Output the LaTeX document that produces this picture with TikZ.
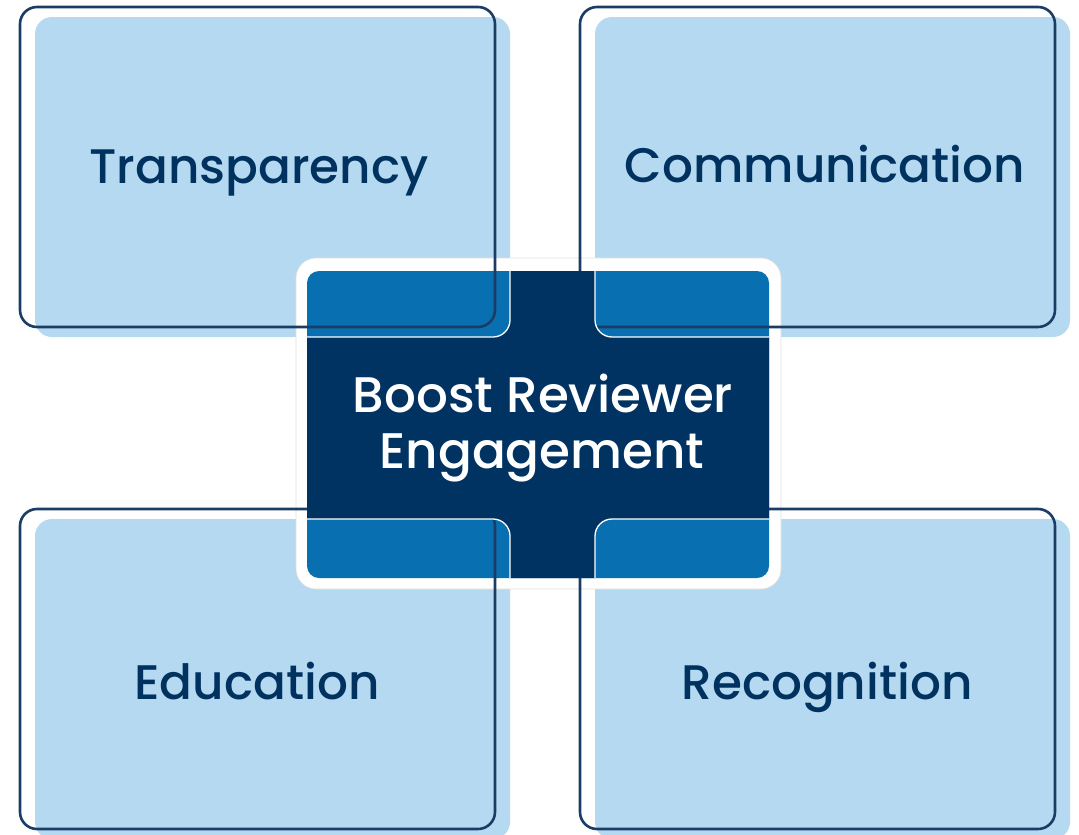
\documentclass[tikz,border=0pt]{standalone}
\usepackage{fontspec}
\newfontfamily\labelfont{Poppins Medium}
\definecolor{lightfill}{RGB}{180,217,241}
\definecolor{edge}{RGB}{27,61,101}
\definecolor{navy}{RGB}{0,51,98}
\definecolor{midblue}{RGB}{8,112,176}
\definecolor{labeltext}{RGB}{0,50,95}
\begin{document}
\begin{tikzpicture}[x=1pt,y=-1pt,
  cardfill/.style={fill=lightfill, rounded corners=17pt},
  cardedge/.style={draw=edge, line width=2.6pt, rounded corners=17pt},
  cardlabel/.style={font=\labelfont\fontsize{48.5}{52}\selectfont, text=labeltext, anchor=base, inner sep=0pt},
  hublabel/.style={font=\labelfont\fontsize{50}{56}\selectfont, text=white, anchor=base, inner sep=0pt}]
\useasboundingbox (0,0) rectangle (1079,835);

% light card bodies
\fill[cardfill] (35,17) rectangle (510,337);
\fill[cardfill] (595,17) rectangle (1070,337);
\fill[cardfill] (35,519) rectangle (510,839);
\fill[cardfill] (595,519) rectangle (1070,839);

% white frame and blue panel of the hub
\fill[white, draw=gray!25, line width=0.6pt, rounded corners=20pt] (296,258) rectangle (781,589);
\fill[midblue, rounded corners=12pt] (307,271) rectangle (769,578);

% card outlines
\draw[cardedge] (20,7) rectangle (495,327);
\draw[cardedge] (580,7) rectangle (1055,327);
\draw[cardedge] (20,509) rectangle (495,829);
\draw[cardedge] (580,509) rectangle (1055,829);

% navy cross: the panel minus the four card bodies
\begin{scope}
  \clip[rounded corners=12pt] (307,271) rectangle (769,578);
  \fill[navy, even odd rule, rounded corners=17pt]
    (290,250) rectangle (790,600)
    (35,17) rectangle (510,337)
    (595,17) rectangle (1070,337)
    (35,519) rectangle (510,839)
    (595,519) rectangle (1070,839);
  \draw[white, line width=1.3pt, rounded corners=17pt]
    (35,17) rectangle (510,337)
    (595,17) rectangle (1070,337)
    (35,519) rectangle (510,839)
    (595,519) rectangle (1070,839);
\end{scope}

% labels
\node[cardlabel] (transparency) at (259,183) {Transparency};
\node[cardlabel] (communication) at (825,182) {Communication};
\node[cardlabel] (education) at (257,699) {Education};
\node[cardlabel] (recognition) at (827,699) {Recognition};
\node[hublabel] (hubtop) at (543,412) {Boost Reviewer};
\node[hublabel] (hubbottom) at (542,468) {Engagement};
\end{tikzpicture}
\end{document}
